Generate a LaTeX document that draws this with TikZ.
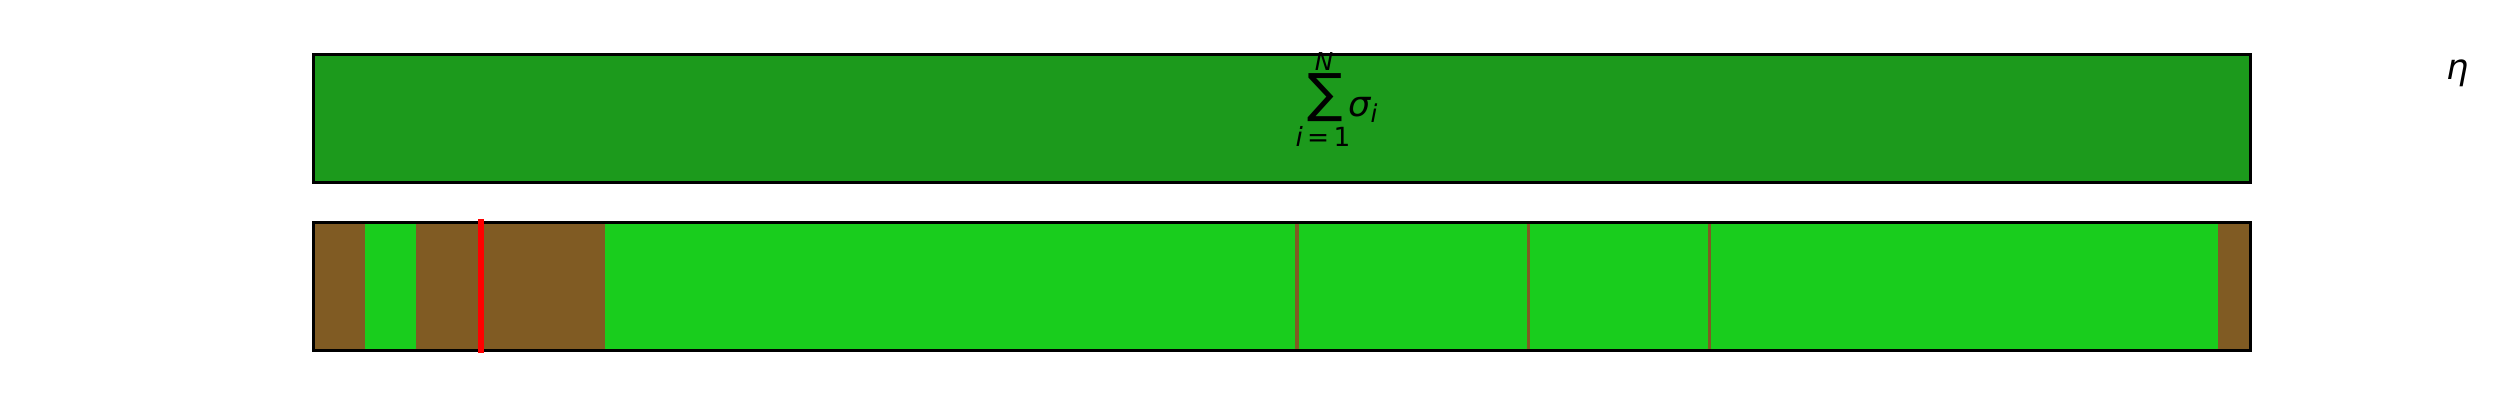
\documentclass[tikz,border=0pt]{standalone}
\usepackage{fontspec}
\setmainfont{DejaVu Sans}
\definecolor{darkg}{RGB}{28,154,28}
\definecolor{brightg}{RGB}{25,205,29}
\definecolor{brownc}{RGB}{128,91,35}
\tikzset{
  frame/.style={draw=black,line width=0.03cm},
  lbl/.style={inner sep=0pt,anchor=center,font=\fontsize{10}{12}\selectfont\itshape},
  sml/.style={inner sep=0pt,anchor=center,font=\fontsize{7}{8}\selectfont\itshape},
}
\begin{document}
\begin{tikzpicture}
\useasboundingbox (0,0) rectangle (25,4);
% top bar
\fill[darkg] (3.13,2.18) rectangle (22.50,3.46);
\draw[frame] (3.13,2.18) rectangle (22.50,3.46);
% bottom bar segments
\fill[brownc] (3.13,0.50) rectangle (3.65,1.78);
\fill[brightg] (3.65,0.50) rectangle (4.16,1.78);
\fill[brownc] (4.16,0.50) rectangle (6.05,1.78);
\fill[brightg] (6.05,0.50) rectangle (22.18,1.78);
\fill[brownc] (22.18,0.50) rectangle (22.50,1.78);
\fill[brownc] (12.95,0.50) rectangle (12.99,1.78);
\fill[brownc] (15.27,0.50) rectangle (15.30,1.78);
\fill[brownc] (17.08,0.50) rectangle (17.11,1.78);
\draw[frame] (3.13,0.50) rectangle (22.50,1.78);
\draw[red,line width=0.06cm] (4.81,0.47) -- (4.81,1.81);
% labels
\node[sml] (nup) at (13.24,3.38) {N};
\node[inner sep=0pt,anchor=center,font=\fontsize{15}{17}\selectfont] (sum) at (13.25,3.02) {∑};
\node[inner sep=0pt,anchor=center,font=\fontsize{7.5}{9}\selectfont] (ilow) at (13.23,2.64) {{\itshape i}\,=\,1};
\node[lbl] (sig) at (13.60,2.925) {σ};
\node[sml] (isub) at (13.74,2.865) {i};
\node[lbl] (eta) at (24.575,3.265) {η};
\end{tikzpicture}
\end{document}
